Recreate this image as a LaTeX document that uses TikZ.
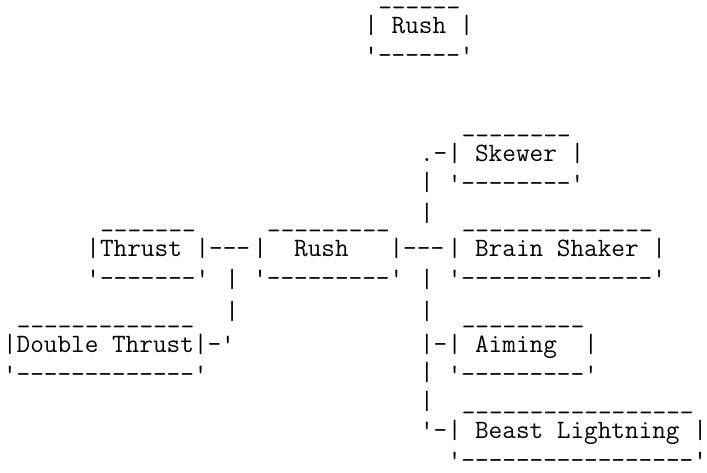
\documentclass[tikz,border=0pt]{standalone}
\usepackage{fontspec}

\tikzset{
  ascii/.style={font=\ttfamily\fontsize{19.857pt}{22.5pt}\selectfont,
    anchor=base west, inner sep=0pt, outer sep=0pt}
}

\newcommand{\skillbox}[5]{%
  \node[ascii] (#1-top) at (#2+1,#3-30) {\foreach \i in {1,...,#4}{\_}};
  \node[ascii] (#1) at (#2,#3) {|#5|};
  \node[ascii] (#1-bot) at (#2,#3+30) {'\foreach \i in {1,...,#4}{-}'};
}

\begin{document}
\begin{tikzpicture}[x=10.425pt, y=-0.75pt]
\useasboundingbox (-0.2194,0) rectangle (50.644,473);
\skillbox{rushtop}{26}{33.5}{6}{\ Rush\ }
\skillbox{skewer}{32}{161.5}{8}{\ Skewer\ }
\skillbox{thrust}{6}{256.5}{7}{Thrust\ }
\skillbox{rush}{18}{256.5}{9}{\ \ Rush\ \ \ }
\skillbox{shaker}{32}{256.5}{14}{\ Brain Shaker\ }
\skillbox{double}{0}{352.5}{13}{Double Thrust}
\skillbox{aiming}{32}{352.5}{9}{\ Aiming\ \ }
\skillbox{beast}{32}{438.5}{17}{\ Beast Lightning\ }
\node[ascii] (thrust-rush) at (thrust.base east) {---};
\node[ascii] (rush-hub) at (rush.base east) {---};
\node[ascii] (hub-skewer) at (30,161.5) {.-};
\node[ascii] (hub-aiming) at (30,352.5) {|-};
\node[ascii] (hub-beast) at (30,438.5) {'-};
\foreach \y in {191,222,288,320,381,410}
  \node[ascii] (hub\y) at (30,\y) {|};
\foreach \y in {288,320}
  \node[ascii] (tail\y) at (16,\y) {|};
\node[ascii] (double-tail) at (double.base east) {-'};
\end{tikzpicture}
\end{document}
